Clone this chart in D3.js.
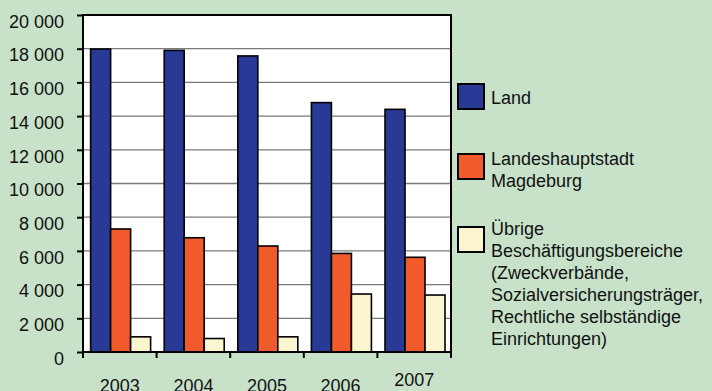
<!DOCTYPE html>
<html>
<head>
<meta charset="utf-8">
<script src="https://cdn.jsdelivr.net/npm/d3@7"></script>
<style>
  html, body { margin: 0; padding: 0; background: #C8E2CA; }
  svg { display: block; }
  text { font-family: "Liberation Sans", Arial, sans-serif; fill: #111; }
</style>
</head>
<body>
<svg id="chart" width="712" height="391"></svg>
<script>
const years = ["2003", "2004", "2005", "2006", "2007"];
const seriesNames = ["Land", "Landeshauptstadt Magdeburg", "Übrige Beschäftigungsbereiche"];
const land = [17980, 17900, 17570, 14800, 14400];
const magdeburg = [7300, 6780, 6290, 5850, 5620];
const uebrige = [900, 800, 900, 3440, 3380];
const yTicks = [0, 2000, 4000, 6000, 8000, 10000, 12000, 14000, 16000, 18000, 20000];
const legendLines = [
  ["Land"],
  ["Landeshauptstadt", "Magdeburg"],
  ["Übrige", "Beschäftigungsbereiche", "(Zweckverbände,", "Sozialversicherungsträger,", "Rechtliche selbständige", "Einrichtungen)"]
];
const colors = ["#283A96", "#F15A2B", "#FBF5D0"];

(function () {
const svg = d3.select("#chart");
const mLeft = 83, mRight = 451, mTop = 15, mBottom = 352;

const x0 = d3.scaleBand().domain(years).range([mLeft, mRight]).padding(0);
const x1 = d3.scaleBand().domain(d3.range(3)).range([0, x0.bandwidth()]).paddingInner(0).paddingOuter(0.34).align(0.56);
const y = d3.scaleLinear().domain([0, 20000]).range([mBottom, mTop]);

// plot background
svg.append("rect").attr("x", mLeft).attr("y", mTop).attr("width", mRight - mLeft).attr("height", mBottom - mTop).attr("fill", "#fff");

// gridlines
svg.append("g").selectAll("line").data(yTicks.filter(d => d > 0 && d < 20000)).join("line")
  .attr("x1", mLeft).attr("x2", mRight)
  .attr("y1", d => y(d)).attr("y2", d => y(d))
  .attr("stroke", "#7a7a7a").attr("stroke-width", 1.3);

// bars
const data = [land, magdeburg, uebrige];
const groups = svg.append("g").selectAll("g").data(years).join("g")
  .attr("transform", d => `translate(${x0(d)},0)`);
groups.selectAll("rect").data((d, i) => data.map((s, k) => ({k, v: s[i]}))).join("rect")
  .attr("x", d => x1(d.k)).attr("width", x1.bandwidth())
  .attr("y", d => y(d.v)).attr("height", d => y(0) - y(d.v))
  .attr("fill", d => colors[d.k]).attr("stroke", "#000").attr("stroke-width", 1.6);

// plot border
svg.append("rect").attr("x", mLeft).attr("y", mTop).attr("width", mRight - mLeft).attr("height", mBottom - mTop)
  .attr("fill", "none").attr("stroke", "#000").attr("stroke-width", 2);

// y axis
const yAxis = d3.axisLeft(y).tickValues(yTicks).tickSize(6).tickPadding(13)
  .tickFormat(d => d3.format(",")(d).replace(/,/g, " "));
const gy = svg.append("g").attr("transform", `translate(${mLeft},0)`).call(yAxis);
gy.select(".domain").remove();
gy.selectAll(".tick line").attr("stroke", "#000").attr("stroke-width", 2);
gy.selectAll(".tick text").attr("font-size", "18px").attr("dy", "0.68em").attr("fill", "#111")
  .style("font-family", "'Liberation Sans', Arial, sans-serif");

// x axis ticks at band boundaries
const bounds = years.map(d => x0(d)).concat([mRight]);
svg.append("g").selectAll("line").data(bounds).join("line")
  .attr("x1", d => d).attr("x2", d => d).attr("y1", mBottom).attr("y2", mBottom + 6)
  .attr("stroke", "#000").attr("stroke-width", 2);
svg.append("g").selectAll("text").data(years).join("text")
  .attr("x", d => x0(d) + x0.bandwidth() / 2)
  .attr("y", (d, i) => i === 4 ? 386 : 392)
  .attr("text-anchor", "middle").attr("font-size", "18px").text(d => d);

// legend
const legendSwY = [84, 154, 227];
const legendTextY = [104, 165, 235];
const lg = svg.append("g");
legendLines.forEach((lines, i) => {
  lg.append("rect").attr("x", 458).attr("y", legendSwY[i]).attr("width", 26).attr("height", 25)
    .attr("fill", colors[i]).attr("stroke", "#000").attr("stroke-width", 2);
  const t = lg.append("text").attr("x", 491).attr("y", legendTextY[i]).attr("font-size", "18px");
  lines.forEach((ln, j) => {
    t.append("tspan").attr("x", 491).attr("dy", j === 0 ? 0 : 22).text(ln);
  });
});
})();
</script>
</body>
</html>
